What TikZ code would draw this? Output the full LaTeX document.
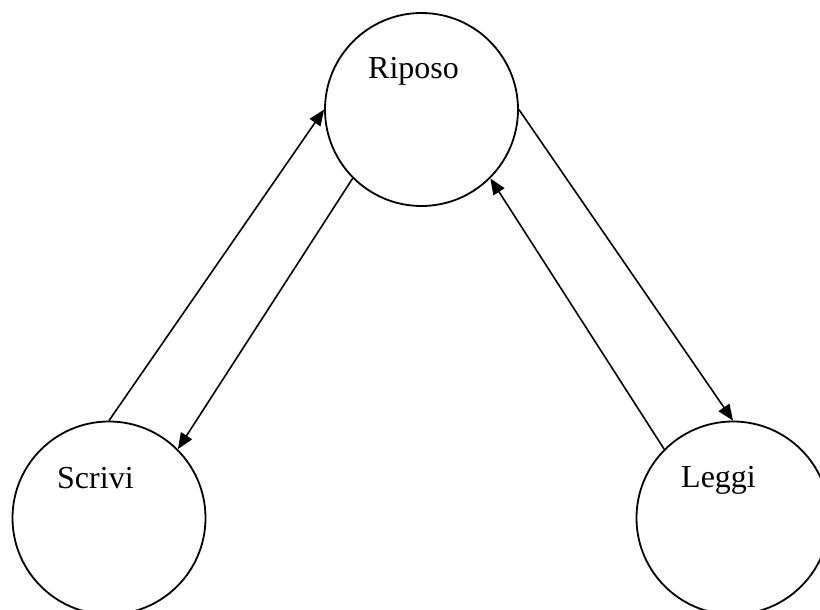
\documentclass[tikz,border=0pt]{standalone}
\usepackage{fontspec}
\setmainfont{Liberation Serif}
\usetikzlibrary{arrows.meta}
\begin{document}
\begin{tikzpicture}[x=1pt,y=-1pt,
  statebox/.style={circle,draw,line width=1.8pt,minimum size=193pt,inner sep=0pt},
  statename/.style={anchor=base west,inner sep=0pt,font=\fontsize{32}{38}\selectfont},
  trans/.style={line width=1.6pt,-{Triangle[length=16pt,width=13pt]}}]
\useasboundingbox (0,0) rectangle (820,610);
\clip (0,0) rectangle (820,610);
% the three states
\node[statebox] (riposo) at (421.5,109.5) {};
\node[statebox] (scrivi) at (109,518) {};
\node[statebox] (leggi) at (733,518) {};
\node[statename] (triposo) at (368,79) {Riposo};
\node[statename] (tscrivi) at (57,488) {Scrivi};
\node[statename] (tleggi) at (681,487) {Leggi};
% transitions
\draw[trans] (scrivi.north) -- (riposo.west);
\draw[trans] (riposo.south west) -- (scrivi.north east);
\draw[trans] (riposo.east) -- (leggi.north);
\draw[trans] (leggi.north west) -- (riposo.south east);
\end{tikzpicture}
\end{document}
